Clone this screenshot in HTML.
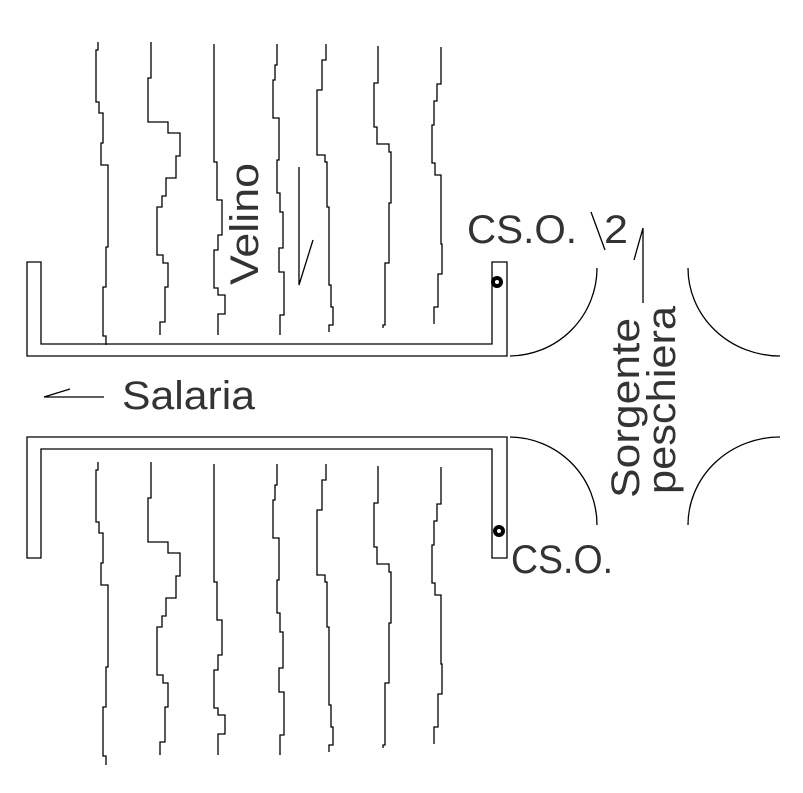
<!DOCTYPE html>
<html><head><meta charset="utf-8"><style>html,body{margin:0;padding:0;background:#fff}svg{display:block}</style></head>
<body>
<svg width="803" height="793" viewBox="0 0 803 793" xmlns="http://www.w3.org/2000/svg">
<g fill="none" stroke="#000" stroke-width="1.3">
<g id="rivers">
<polyline points="98,42 98,50 96,50 96,102 99,102 99,113 103,113 103,143 101,143 101,165 108,165 108,247 106,247 106,287 103,287 103,336 106,336 106,345"/>
<polyline points="151,42 151,78 148,78 148,122 168,122 168,133 180,133 180,156 176,156 176,178 166,178 166,196 162,196 162,207 157,207 157,255 163,255 163,263 168,263 168,287 165,287 165,322 160,322 160,335"/>
<polyline points="214,44 214,162 217,162 217,200 222,200 222,235 218,235 218,250 214,250 214,288 218,288 218,295 225,295 225,314 218,314 218,335"/>
<polyline points="277,44 277,65 275,65 275,80 273,80 273,118 279,118 279,160 277,160 277,193 280,193 280,212 283,212 283,248 279,248 279,272 284,272 284,315 280,315 280,335"/>
<polyline points="326,44 326,60 322,60 322,90 317,90 317,155 325,155 325,162 327,162 327,207 329,207 329,285 331,285 331,307 333,307 333,325 329,325 329,332"/>
<polyline points="378,46 378,83 374,83 374,127 377,127 377,144 389,144 389,152 391,152 391,203 389,203 389,263 385,263 385,325 383,325 383,328"/>
<polyline points="441,47 441,84 437,84 437,101 434,101 434,125 432,125 432,163 435,163 435,175 441,175 441,244 442,244 442,274 438,274 438,307 434,307 434,324"/>
</g>
<use href="#rivers" transform="translate(0,420)"/>
<polygon points="27,262 41,262 41,344 492,344 492,262 507,262 507,356 27,356"/>
<polygon points="27,437 507,437 507,558 492,558 492,449 41,449 41,558 27,558"/>
<path d="M510,356 A88,88 0 0 0 597,268"/>
<path d="M688,268 A92,88 0 0 0 780,356"/>
<path d="M510,437 A88,88 0 0 1 597,525"/>
<path d="M780,437 A92,88 0 0 0 688,525"/>
<polyline points="70,389 44,397 104,397"/>
<polyline points="299,167 299,285 313,240"/>
<polyline points="634,260 643,228 643,303"/>
<line x1="591" y1="212" x2="605" y2="250"/>
</g>
<circle cx="497" cy="282" r="4" fill="#fff" stroke="#000" stroke-width="4"/>
<circle cx="499" cy="531" r="4" fill="#fff" stroke="#000" stroke-width="4"/>
<g font-family="Liberation Sans, sans-serif" font-size="40" fill="#333">
<text x="122" y="409" textLength="133" lengthAdjust="spacingAndGlyphs">Salaria</text>
<text x="467" y="243" textLength="110" lengthAdjust="spacingAndGlyphs">CS.O.</text>
<text x="604" y="243" textLength="24" lengthAdjust="spacingAndGlyphs">2</text>
<text x="511" y="573" textLength="102" lengthAdjust="spacingAndGlyphs">CS.O.</text>
<text transform="translate(258,285) rotate(-90)" textLength="122" lengthAdjust="spacingAndGlyphs">Velino</text>
<text transform="translate(639,498) rotate(-90)" textLength="180" lengthAdjust="spacingAndGlyphs">Sorgente</text>
<text transform="translate(675,494) rotate(-90)" textLength="188" lengthAdjust="spacingAndGlyphs">peschiera</text>
</g>
</svg>
</body></html>
